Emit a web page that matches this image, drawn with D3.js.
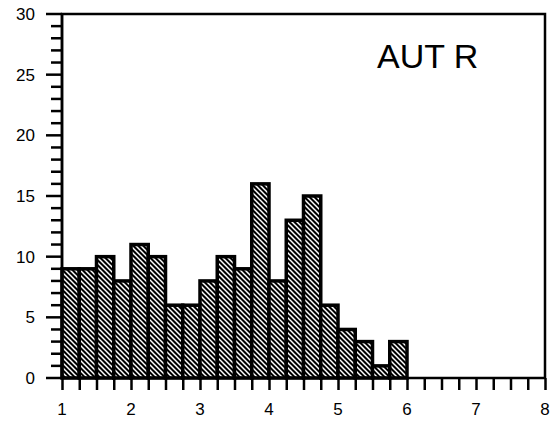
<!DOCTYPE html>
<html><head><meta charset="utf-8">
<script src="https://cdn.jsdelivr.net/npm/d3@7"></script>
<style>body{margin:0;background:#fff}svg{display:block}</style>
</head><body><svg id="c" width="560" height="422"></svg>
<script>
const binStarts = [1,1.25,1.5,1.75,2,2.25,2.5,2.75,3,3.25,3.5,3.75,4,4.25,4.5,4.75,5,5.25,5.5,5.75];
const counts    = [9,9,10,8,11,10,6,6,8,10,9,16,8,13,15,6,4,3,1,3];
const binWidth = 0.25;
const xTickLabels = [1,2,3,4,5,6,7,8];
const yTickLabels = [0,5,10,15,20,25,30];
const title = "AUT R";

const svg = d3.select("#c");
const L=62, R=545, T=14, B=378;
const x = d3.scaleLinear().domain([1,8]).range([L,R]);
const y = d3.scaleLinear().domain([0,30]).range([B,T]);

const defs = svg.append("defs");
const pat = defs.append("pattern").attr("id","hatch").attr("patternUnits","userSpaceOnUse")
  .attr("width",5).attr("height",5);
pat.append("rect").attr("width",5).attr("height",5).attr("fill","#000");
pat.append("path").attr("d","M-1,-1 L6,6 M-6,-1 L1,6 M4,-1 L11,6").attr("stroke","#fff").attr("stroke-width",1.5);

const data = binStarts.map((s,i)=>({s, v:counts[i]}));
svg.append("g").selectAll("rect").data(data).join("rect")
  .attr("x",d=>x(d.s)).attr("y",d=>y(d.v))
  .attr("width",d=>x(d.s+binWidth)-x(d.s)).attr("height",d=>y(0)-y(d.v))
  .attr("fill","url(#hatch)").attr("stroke","#000").attr("stroke-width",3.5);

// frame
svg.append("path").attr("d",`M${L},${B} L${L},${T} L${R},${T} L${R},${B}`)
  .attr("fill","none").attr("stroke","#000").attr("stroke-width",2.5);

// x axis
const xMinor = d3.range(1,8.001,0.25);
const xAx = d3.axisBottom(x).tickValues(xMinor).tickSize(12).tickFormat("");
const gx = svg.append("g").attr("transform",`translate(0,${B})`).call(xAx);
gx.select(".domain").attr("stroke-width",2.5).attr("d",`M${L},0H${R}`);
gx.selectAll(".tick line").attr("stroke-width",2.5);
svg.append("g").selectAll("text").data(xTickLabels).join("text")
  .attr("x",d=>x(d)).attr("y",415).attr("text-anchor","middle")
  .attr("font-family","Liberation Sans, Arial, sans-serif").attr("font-size",17).text(d=>d);

// y axis
const yMinor = d3.range(0,30.001,1);
const gy = svg.append("g").attr("transform",`translate(${L},0)`);
gy.selectAll("line").data(yMinor).join("line")
  .attr("x1",d=>d%5===0?-16:-11).attr("x2",0)
  .attr("y1",d=>y(d)).attr("y2",d=>y(d)).attr("stroke","#000").attr("stroke-width",2.5);
gy.append("line").attr("x1",0).attr("x2",0).attr("y1",T).attr("y2",B).attr("stroke","#000").attr("stroke-width",2.5);
svg.append("g").selectAll("text").data(yTickLabels).join("text")
  .attr("x",35).attr("y",d=>y(d)+6).attr("text-anchor","end")
  .attr("font-family","Liberation Sans, Arial, sans-serif").attr("font-size",17).text(d=>d);

svg.append("text").attr("x",377).attr("y",68)
  .attr("font-family","Liberation Sans, Arial, sans-serif").attr("font-size",34).text(title);
</script></body></html>
